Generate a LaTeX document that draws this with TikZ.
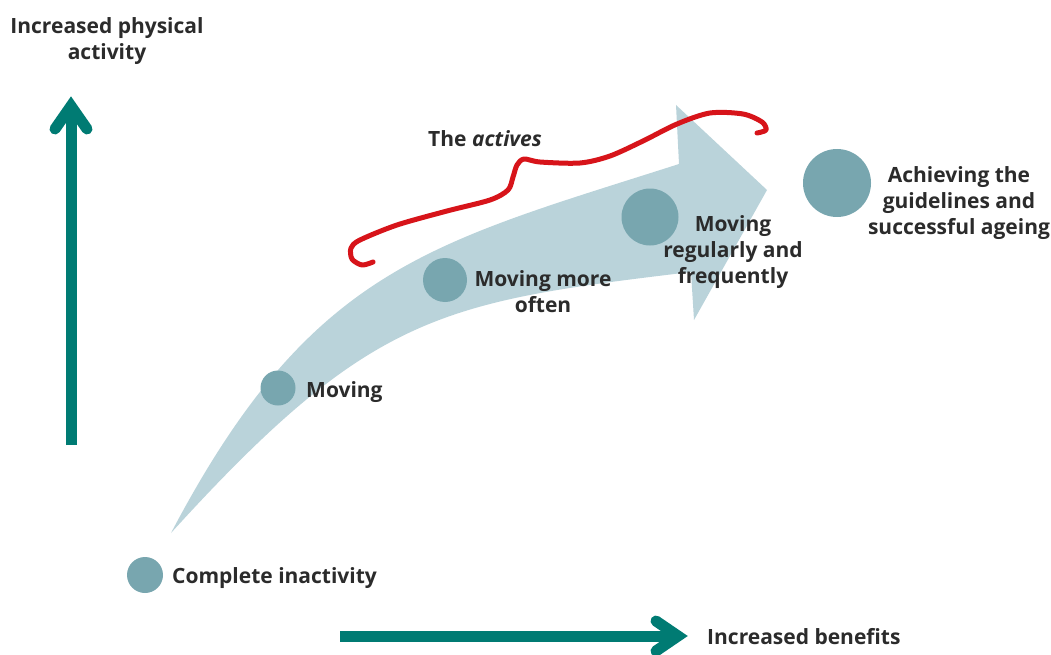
\documentclass[tikz,border=0pt]{standalone}
\usepackage{fontspec}
\setmainfont{Open Sans}
\definecolor{tealc}{HTML}{007B73}
\definecolor{bandc}{HTML}{BAD3DA}
\definecolor{dotc}{HTML}{78A6AF}
\definecolor{redc}{HTML}{D7141A}
\definecolor{txtc}{HTML}{2B2B2B}
\begin{document}
\begin{tikzpicture}[x=1pt,y=-1pt,
  dot/.style={circle,fill=dotc,inner sep=0pt},
  lbl/.style={inner sep=0pt,text=txtc,font=\fontsize{21}{26}\selectfont\bfseries,align=center},
  axis/.style={draw=tealc,line width=11pt},
  chev/.style={draw=tealc,line width=11pt,line cap=round,line join=miter}]
\path[use as bounding box] (0,0) rectangle (1051,655);
% big curved arrow
\coordinate (tail) at (171,533);
\coordinate (uj) at (679,164);
\coordinate (hb1) at (676,105);
\coordinate (tip) at (767,190);
\coordinate (hb2) at (694,320);
\coordinate (lj) at (691,272);
\fill[bandc] (tail) .. controls (311,267) and (429,244) .. (uj)
  -- (hb1) -- (tip) -- (hb2) -- (lj)
  .. controls (441,302) and (371,313) .. (tail) -- cycle;
% red brace
\draw[redc,line width=5pt,line cap=round,line join=round] plot[smooth,tension=0.5] coordinates {(373,262) (362,265) (352,259) (351,248) (360,240) (397,225) (447,211) (490,200) (508,190) (513,177) (517,165) (524,159) (540,162) (580,163) (610,156) (643,141) (677,124) (710,113) (743,114) (762,122) (766,130) (757,133)};
% dots
\node[dot,minimum size=36pt] (c1) at (145,575) {};
\node[dot,minimum size=35pt] (c2) at (278,388) {};
\node[dot,minimum size=44pt] (c3) at (445,280) {};
\node[dot,minimum size=57pt] (c4) at (650,217) {};
\node[dot,minimum size=68pt] (c5) at (837,183) {};
% labels
\node[lbl,anchor=west] (t1) at (172,578) {Complete inactivity};
\node[lbl,anchor=west] (t2) at (306,392) {Moving};
\node[lbl] (t3) at (543,292) {Moving more\\often};
\node[lbl] (t4) at (733,252) {Moving\\regularly and\\frequently};
\node[lbl] (t5) at (959,203) {Achieving the\\guidelines and\\successful ageing};
\node[lbl,anchor=west] (t6) at (428,139) {The \textit{actives}};
\node[lbl] (ty) at (107,41) {Increased physical\\activity};
\node[lbl,anchor=west] (tx) at (707,637) {Increased benefits};
% axes
\coordinate (vb) at (71,445);
\coordinate (vt) at (71,106);
\coordinate (vl) at (55,129);
\coordinate (vr) at (87,129);
\draw[axis] (vb) -- (vt);
\draw[chev] (vl) -- (vt) -- (vr);
\coordinate (hb) at (340,636);
\coordinate (ht) at (678,636);
\coordinate (hu) at (656,621);
\coordinate (hd) at (656,651);
\draw[axis] (hb) -- (ht);
\draw[chev] (hu) -- (ht) -- (hd);
\end{tikzpicture}
\end{document}
